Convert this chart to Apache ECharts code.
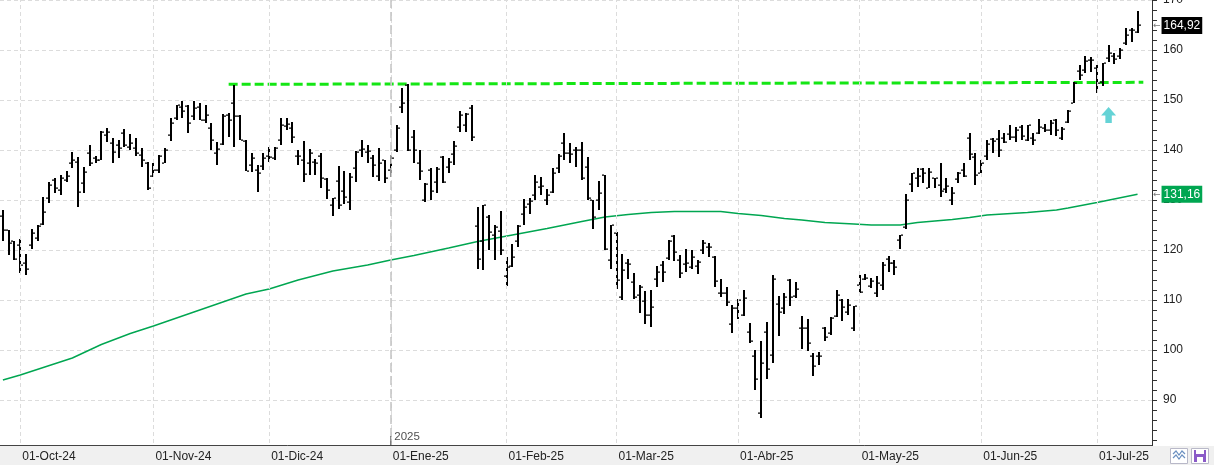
<!DOCTYPE html>
<html>
<head>
<meta charset="utf-8">
<script src="https://cdn.jsdelivr.net/npm/echarts@6/dist/echarts.min.js"></script>
<style>
html, body { margin: 0; padding: 0; background: #fff; }
#chart { width: 1214px; height: 465px; }
</style>
</head>
<body>
<div id="chart"></div>
<script>
// sesiones (calendario NYSE) del 26-sep-24 al 11-jul-25
const startDate = '2024-09-26';
const endDate = '2025-07-11';
const holidays = ['2024-11-28', '2024-12-25', '2025-01-01', '2025-01-09', '2025-01-20',
	'2025-02-17', '2025-04-18', '2025-05-26', '2025-06-19', '2025-07-04'];
const mesesAbr = ['Ene', 'Feb', 'Mar', 'Abr', 'May', 'Jun', 'Jul', 'Ago', 'Sep', 'Oct', 'Nov', 'Dic'];

// [open, high, low, close] por sesion
const bars = [
	[126.8,127.9,121.7,123.9],[124.0,124.0,119.0,121.5],[121.7,121.7,118.1,118.3],[121.0,122.3,115.5,117.0],
	[117.5,119.3,115.0,116.3],[121.0,124.3,120.3,123.5],[122.5,125.0,121.7,124.8],[125.2,130.7,124.9,127.7],
	[130.3,133.6,129.3,132.9],[134.0,134.5,131.3,132.5],[132.0,135.0,130.9,134.5],[134.0,135.8,133.7,134.8],
	[137.5,139.7,136.3,138.1],[137.7,138.7,128.7,131.7],[133.5,136.7,131.5,135.7],[139.3,141.0,136.9,137.3],
	[138.5,138.8,137.3,138.0],[138.1,143.8,138.0,143.6],[143.0,144.4,141.7,143.6],[141.5,142.4,137.5,139.7],
	[140.9,142.1,138.5,140.4],[143.5,144.2,140.7,141.0],[140.7,143.2,140.1,141.3],[140.3,142.3,138.9,139.3],
	[139.0,140.4,136.7,138.0],[137.5,137.6,132.1,132.5],[134.8,137.5,134.7,136.0],[136.1,139.0,135.5,138.8],
	[137.5,140.3,137.3,140.1],[143.0,146.5,141.9,145.5],[146.5,148.9,146.1,148.9],[148.7,149.9,146.3,147.9],
	[148.8,148.9,143.5,145.3],[146.8,149.8,145.9,148.3],[148.6,149.3,145.9,146.1],[146.0,148.9,145.5,147.0],
	[144.5,145.3,140.0,142.0],[139.5,141.7,137.1,140.2],[141.2,147.2,141.0,146.8],[147.0,147.5,142.7,145.9],
	[149.3,153.1,140.7,146.8],[146.8,147.1,142.0,142.1],[141.8,142.1,135.8,135.9],[137.0,139.5,135.7,138.3],
	[136.0,137.0,131.7,135.3],[136.8,139.3,136.1,138.3],[138.8,140.7,137.7,138.6],[138.3,140.7,137.9,140.3],
	[142.0,146.5,141.0,145.1],[144.8,146.5,143.9,145.2],[144.5,145.7,141.3,142.7],[138.9,140.0,137.0,138.8],
	[138.0,141.8,133.7,135.2],[137.3,140.2,135.1,139.3],[137.7,138.2,135.1,137.3],[138.9,139.5,132.5,134.3],
	[134.2,134.3,130.2,132.0],[129.1,130.5,126.7,130.4],[133.9,136.9,128.2,128.9],[131.8,135.8,129.2,130.7],
	[129.7,135.3,128.0,134.7],[136.3,139.8,133.7,139.7],[140.0,142.0,138.7,140.2],[139.7,141.0,137.5,139.9],
	[138.5,139.1,134.7,137.0],[134.8,140.5,133.9,137.5],[138.0,138.1,133.5,134.3],[136.0,139.0,134.7,138.3],
	[140.0,145.0,139.7,144.5],[148.6,152.3,147.5,149.4],[153.0,153.2,139.9,140.1],[142.6,144.0,137.3,140.1],
	[137.5,140.0,134.0,135.9],[129.9,133.5,129.5,133.2],[136.0,136.3,129.9,131.8],[133.7,136.7,131.3,136.2],
	[138.6,138.8,133.5,133.6],[136.7,138.5,135.5,137.7],[139.2,141.8,137.1,140.8],[144.7,147.8,143.7,147.1],
	[145.0,147.3,143.7,147.2],[148.4,149.0,141.9,142.6],[124.8,128.7,116.3,118.3],[121.8,129.0,116.0,128.9],
	[126.5,127.0,120.0,123.7],[123.1,125.0,118.0,124.6],[123.8,127.8,119.0,120.1],[114.8,118.7,112.9,116.7],
	[116.9,121.3,116.7,118.7],[121.7,125.0,120.7,124.8],[127.3,130.2,125.1,128.7],[129.2,130.5,127.3,129.8],
	[131.0,135.0,130.0,133.6],[132.6,134.7,130.9,132.8],[130.0,132.2,129.1,131.1],[131.6,136.5,131.3,135.3],
	[136.5,139.2,135.5,138.8],[141.3,143.3,137.9,139.4],[139.5,141.3,137.3,139.2],[140.0,140.7,136.7,140.1],
	[140.0,141.7,134.0,134.4],[136.6,138.7,130.0,130.3],[129.9,130.1,124.2,126.6],[129.9,133.8,128.0,131.3],
	[135.0,135.0,120.0,120.2],[118.0,125.0,116.3,124.9],[123.5,123.7,112.3,114.1],[110.6,119.3,110.1,116.0],
	[117.5,118.3,114.3,117.3],[113.6,115.5,110.2,110.6],[111.1,113.0,107.5,112.7],[109.9,111.9,105.2,107.0],
	[107.0,112.1,104.7,108.6],[114.2,116.8,112.7,115.7],[117.0,117.8,113.7,115.6],[118.5,122.0,118.0,121.7],
	[122.7,123.0,117.9,119.6],[118.1,119.0,114.5,115.4],[117.3,120.3,115.7,117.5],[116.6,120.1,116.3,118.6],
	[116.9,118.0,115.3,117.7],[120.0,122.1,119.3,121.4],[120.6,121.5,118.7,120.7],[118.7,118.8,112.7,113.8],
	[111.4,114.3,110.7,111.4],[111.5,112.7,108.8,109.7],[105.2,109.0,103.5,108.4],[108.5,110.2,106.2,110.1],
	[107.0,112.0,106.9,110.4],[103.7,105.5,101.5,101.8],[98.9,100.1,91.9,94.3],[87.5,101.8,86.5,97.5],
	[103.7,105.7,94.3,96.3],[99.0,115.1,97.5,114.3],[109.3,110.9,102.8,107.6],[108.5,111.5,107.2,110.7],
	[114.1,114.3,108.8,110.7],[110.9,113.7,110.5,112.2],[104.5,106.8,100.2,104.5],[104.4,106.3,99.8,101.5],
	[98.8,99.5,94.9,96.9],[98.8,99.7,97.1,98.9],[104.5,104.7,101.9,102.7],[103.5,106.7,103.1,106.4],
	[106.8,112.0,106.7,111.0],[110.0,110.3,105.9,108.7],[107.7,110.2,107.0,109.0],[104.5,108.8,103.9,108.8],
	[113.1,115.0,111.5,111.6],[114.2,115.2,114.0,114.5],[112.9,114.5,112.5,113.8],[111.5,114.8,110.7,113.5],
	[113.0,117.7,112.0,117.1],[118.3,118.8,115.7,117.4],[117.4,118.1,115.0,116.6],[121.9,123.0,120.2,123.0],
	[124.6,131.2,124.3,129.9],[133.2,135.3,131.7,135.3],[134.3,136.3,132.7,134.8],[136.2,136.3,133.5,135.4],
	[132.4,136.3,132.3,135.6],[134.3,134.5,132.3,134.4],[133.1,137.3,130.7,131.8],[132.2,134.3,131.3,132.8],
	[130.0,132.7,129.0,131.3],[134.2,135.7,133.3,135.5],[136.0,137.3,134.7,134.8],[142.3,143.5,138.0,139.2],
	[138.7,139.5,132.9,135.1],[135.5,138.1,135.5,137.4],[138.8,142.0,137.9,141.2],[142.2,142.3,139.5,141.9],
	[142.2,144.0,138.7,140.0],[142.5,143.3,141.5,141.7],[143.2,145.0,142.0,142.6],[142.7,144.7,141.7,144.0],
	[144.6,145.0,142.0,142.8],[142.0,145.0,141.9,145.0],[142.5,143.3,140.9,142.0],[143.4,146.2,143.2,144.7],
	[144.5,145.2,143.7,144.1],[144.0,146.0,143.0,145.5],[146.0,146.2,142.8,143.9],[142.5,144.7,142.1,144.2],
	[145.6,148.0,145.5,147.9],[149.3,153.7,149.3,153.3],[155.9,156.9,154.0,155.0],[156.0,158.8,155.3,157.8],
	[158.1,158.7,155.7,158.0],[156.3,157.0,151.5,153.3],[153.7,157.5,152.9,157.3],[158.5,161.0,157.7,159.3],
	[158.8,159.5,157.2,158.2],[158.9,160.3,158.2,160.0],[161.3,164.5,161.1,162.9],[164.1,164.5,161.7,164.1],
	[163.7,167.9,163.5,164.92]
];

// media movil: [indice de sesion, valor]
const maPoints = [
	[0, 94.0], [3, 95.0], [12, 98.4], [17, 101.1], [22, 103.3], [26, 104.8], [34, 108.0], [42, 111.2],
	[46, 112.2], [51, 114.0], [57, 115.8], [63, 117.0], [67, 118.0], [71, 118.9], [77, 120.4], [82, 121.7],
	[88, 123.0], [94, 124.3], [100, 125.7], [104, 126.6], [108, 127.1], [112, 127.5], [116, 127.7],
	[124, 127.7], [127, 127.3], [131, 126.9], [135, 126.3], [138, 126.0], [142, 125.5], [147, 125.2],
	[150, 125.0], [155, 125.0], [158, 125.5], [161, 125.8], [164, 126.1], [167, 126.5], [170, 127.0],
	[177, 127.5], [182, 128.0], [184, 128.4], [189, 129.5], [196, 131.16]
];

// directriz de resistencia y flecha
const trendLine = [[39, 153.13], [197, 153.53]];
const arrowAt = [191, 147];
const padSlots = 2;

// construir sesiones
function buildSessions() {
	let out = [];
	let d = new Date(startDate + 'T00:00:00Z');
	let end = new Date(endDate + 'T00:00:00Z');
	while (d <= end) {
		let s = d.toISOString().slice(0, 10);
		let wd = d.getUTCDay();
		if (wd !== 0 && wd !== 6 && holidays.indexOf(s) < 0) out.push(s);
		d = new Date(d.getTime() + 86400000);
	}
	return out;
}
const sessions = buildSessions();
const categories = sessions.slice();
for (let k = 0; k < padSlots; k++) categories.push(' '.repeat(k + 1));

// primer dia de cada mes
const monthStarts = [];
for (let i = 1; i < sessions.length; i++) {
	if (sessions[i].slice(5, 7) !== sessions[i - 1].slice(5, 7)) monthStarts.push(i);
}
let yearIdx = monthStarts.find(i => sessions[i].slice(0, 4) !== sessions[i - 1].slice(0, 4));

function isMonthStart(index) {
	return monthStarts.indexOf(index) >= 0;
}
function monthLabel(value) {
	if (!value || value.trim() === '') return '';
	let m = parseInt(value.slice(5, 7));
	return '01-' + mesesAbr[m - 1] + '-' + value.slice(2, 4);
}
function fmt(v) {
	return v.toFixed(2).replace('.', ',');
}

const ohlcData = bars.slice(0, sessions.length).map((b, i) => [i, b[0], b[1], b[2], b[3]]);
const lastClose = bars[bars.length - 1][3];
const lastMA = maPoints[maPoints.length - 1][1];

function renderBar(params, api) {
	let i = api.value(0);
	let pO = api.coord([i, api.value(1)]);
	let pH = api.coord([i, api.value(2)]);
	let pL = api.coord([i, api.value(3)]);
	let pC = api.coord([i, api.value(4)]);
	let x = Math.round(pH[0]);
	let yH = Math.round(pH[1]);
	let yL = Math.round(pL[1]);
	return {
		type: 'group',
		children: [
			{ type: 'rect', shape: { x: x - 1, y: yH, width: 2, height: Math.max(1, yL - yH) }, style: { fill: '#000' } },
			{ type: 'rect', shape: { x: x - 3, y: Math.round(pO[1]) - 0.5, width: 2, height: 1.2 }, style: { fill: '#000' } },
			{ type: 'rect', shape: { x: x + 1, y: Math.round(pC[1]) - 0.5, width: 2, height: 1.2 }, style: { fill: '#000' } }
		]
	};
}

const axisFont = 'Liberation Sans';

function valueTag(v, bg) {
	return {
		yAxis: v,
		lineStyle: { color: 'rgba(0,0,0,0)', width: 0 },
		label: {
			show: true, position: 'end', distance: 0,
			formatter: '{a|←}{b|' + fmt(v) + '}',
			rich: {
				a: { color: '#777', fontSize: 9, fontFamily: 'DejaVu Sans', padding: [0, 1, 0, 1] },
				b: { color: '#fff', backgroundColor: bg, fontSize: 12, fontFamily: axisFont, padding: [3, 2, 2, 2] }
			}
		}
	};
}

let chart = echarts.init(document.getElementById('chart'), null, { renderer: 'canvas' });
let option = {
	animation: false,
	backgroundColor: '#fff',
	grid: { left: 0, right: 62, top: 0, bottom: 15, containLabel: false, outerBoundsMode: 'none' },
	xAxis: [{
		type: 'category',
		data: categories,
		boundaryGap: true,
		offset: -5,
		z: 10,
		axisLine: { lineStyle: { color: '#444', width: 1 } },
		axisTick: { alignWithLabel: true, interval: isMonthStart, length: 8, lineStyle: { color: '#444' } },
		axisLabel: {
			interval: isMonthStart, formatter: monthLabel, align: 'left', margin: 6,
			padding: [0, 0, 0, 2], color: '#222', fontSize: 12, fontFamily: axisFont
		},
		splitLine: { show: false }
	}],
	yAxis: [{
		type: 'value',
		position: 'right',
		min: 80,
		max: 170,
		interval: 10,
		axisLine: { show: true, lineStyle: { color: '#333' } },
		axisTick: { show: true, length: 5, lineStyle: { color: '#333' } },
		minorTick: { show: true, splitNumber: 5, length: 5, lineStyle: { color: '#333' } },
		axisLabel: {
			margin: 11, color: '#222', fontSize: 12, fontFamily: axisFont,
			formatter: v => (v <= 80 ? '' : String(v))
		},
		splitLine: { show: true, lineStyle: { color: '#dcdcdc', type: [4, 3], width: 1 } }
	}],
	series: [
		{
			name: 'MA',
			type: 'line',
			z: 2,
			data: maPoints,
			showSymbol: false,
			silent: true,
			lineStyle: { color: '#00a651', width: 1.4 },
			markLine: {
				silent: true,
				symbol: 'none',
				animation: false,
				label: { show: false },
				lineStyle: { color: '#dcdcdc', type: [4, 3], width: 1 },
				data: monthStarts.map(i => ({ xAxis: i })).concat([
					{ xAxis: yearIdx, lineStyle: { color: '#c4c4c4', type: [9, 4], width: 1.5 } },
					valueTag(lastClose, '#000'),
					valueTag(lastMA, '#00a651')
				])
			}
		},
		{
			name: 'Resistencia',
			type: 'line',
			z: 3,
			data: trendLine,
			showSymbol: false,
			silent: true,
			lineStyle: { color: '#14e614', width: 3, type: [9, 4] }
		},
		{
			name: 'Precio',
			type: 'custom',
			z: 4,
			clip: true,
			renderItem: renderBar,
			encode: { x: 0, y: [1, 2, 3, 4] },
			data: ohlcData
		},
		{
			name: 'Flecha',
			type: 'scatter',
			z: 5,
			silent: true,
			data: [arrowAt],
			symbol: 'path://M7,0 L14,8 L10,8 L10,15 L4,15 L4,8 L0,8 Z',
			symbolSize: [15, 16],
			itemStyle: { color: '#3ec8cc' }
		},
		{
			name: 'Anio',
			type: 'scatter',
			z: 11,
			silent: true,
			data: [[yearIdx, 81]],
			symbol: 'rect',
			symbolSize: [1, 9],
			symbolOffset: [0, -4.5],
			itemStyle: { color: '#444' },
			label: {
				show: true, formatter: sessions[yearIdx].slice(0, 4), position: [4, -5],
				color: '#222', fontSize: 11.5, fontFamily: axisFont
			}
		}
	],
	graphic: {
		elements: [
			{ type: 'rect', z: 6, silent: true, shape: { x: 0, y: 446, width: 1214, height: 19 }, style: { fill: '#f0f0f0' } },
			{ type: 'rect', z: 7, silent: true, shape: { x: 1170.5, y: 448.5, width: 17, height: 15 }, style: { fill: '#fff', stroke: '#b8b8c8', lineWidth: 1 } },
			{ type: 'polyline', z: 8, silent: true, shape: { points: [[1173, 454], [1176, 451], [1179, 455], [1182, 451], [1185, 454]] }, style: { stroke: '#6a8fc0', fill: null, lineWidth: 1.2 } },
			{ type: 'polyline', z: 8, silent: true, shape: { points: [[1173, 458], [1176, 455], [1179, 459], [1182, 455], [1185, 458]] }, style: { stroke: '#6a8fc0', fill: null, lineWidth: 1.2 } },
			{ type: 'rect', z: 7, silent: true, shape: { x: 1191.5, y: 448.5, width: 17, height: 15 }, style: { fill: '#fff', stroke: '#b8b8c8', lineWidth: 1 } },
			{ type: 'rect', z: 8, silent: true, shape: { x: 1194, y: 450, width: 12, height: 12 }, style: { fill: '#8b5bc8' } },
			{ type: 'rect', z: 9, silent: true, shape: { x: 1196, y: 450, width: 8, height: 4 }, style: { fill: '#fff' } },
			{ type: 'rect', z: 9, silent: true, shape: { x: 1197, y: 457, width: 6, height: 5 }, style: { fill: '#fff' } }
		]
	}
};
chart.setOption(option);
</script>
</body>
</html>
